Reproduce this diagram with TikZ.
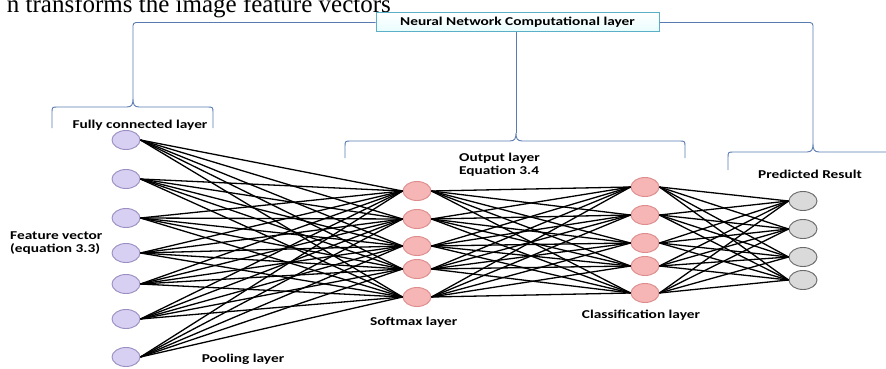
\documentclass[tikz,border=0pt]{standalone}
\usepackage{fontspec}
\setmainfont{Carlito}
\newfontfamily\bodyserif{Liberation Serif}
\newfontfamily\labelfont[FakeStretch=1.28]{Carlito}
\usetikzlibrary{shapes.geometric}

\definecolor{bracecol}{HTML}{5A7BB0}
\definecolor{boxedge}{HTML}{5BB0C8}
\definecolor{boxfill}{HTML}{DDF4F8}
\definecolor{purplefill}{HTML}{D8D0F2}
\definecolor{purpleedge}{HTML}{9A8EC2}
\definecolor{pinkfill}{HTML}{F6B6B6}
\definecolor{pinkedge}{HTML}{DE8C8C}
\definecolor{greyfill}{HTML}{DADADA}
\definecolor{greyedge}{HTML}{6A6A6A}

\tikzset{
  neuron/.style={ellipse, minimum width=28pt, minimum height=19pt, inner sep=0pt, line width=0.9pt},
  inneuron/.style={neuron, draw=purpleedge, fill=purplefill},
  midneuron/.style={neuron, draw=pinkedge, fill=pinkfill},
  outneuron/.style={neuron, draw=greyedge, fill=greyfill},
  synapse/.style={draw=black, line width=1.3pt},
  bracket/.style={draw=bracecol, line width=0.9pt, rounded corners=3pt},
  lbl/.style={font=\labelfont\bfseries\fontsize{12}{13}\selectfont, inner sep=0pt, text=black},
  titlebox/.style={draw=boxedge, line width=1pt, top color=white, bottom color=boxfill!80!cyan!30,
    minimum width=283pt, minimum height=19pt, inner sep=0pt, font=\labelfont\bfseries\fontsize{12}{13}\selectfont}
}

% layer brace: left x, right x, tip x, bar y, end y
\newcommand\layerbrace[5]{%
  \draw[bracecol, line width=0.9pt]
    (#1,#5) -- (#1,#4+6) .. controls (#1,#4) .. (#1+6,#4)
    -- (#3-6,#4) .. controls (#3-1,#4) and (#3,#4-3) .. (#3,#4-8)
    .. controls (#3,#4-3) and (#3+1,#4) .. (#3+6,#4)
    -- (#2-6,#4) .. controls (#2,#4) .. (#2,#4+6) -- (#2,#5);}

\begin{document}
\begin{tikzpicture}[x=1pt, y=-1pt]
\useasboundingbox (0,0) rectangle (886,369);
\clip (0,0) rectangle (886,369);
\fill[white] (0,0) rectangle (886,369);

% running text of the page above
\node[anchor=base east, inner sep=0pt, font=\bodyserif\fontsize{25}{28}\selectfont] (runhead) at (391,12.2) {n transforms the image feature vectors};

% title box and its bracket lines
\node[titlebox] (title) at (517.5,22.5) {Neural Network Computational layer};
\coordinate (tipA) at (133,99);
\coordinate (tipB) at (516,133);
\coordinate (tipC) at (813,144);
\draw[bracket] (tipA) |- (title.west);
\draw[bracket] (title.east) -| (tipC);
\draw[bracket] (title.south -| tipB) -- (tipB);

\layerbrace{52}{213}{133}{107}{128}
\layerbrace{345}{685}{516}{141}{158}
\layerbrace{728}{910}{813}{152}{170}

% neurons
\foreach \i/\y in {1/140,2/179,3/218,4/253,5/284,6/319,7/357}
  \node[inneuron] (f\i) at (126,\y) {};
\foreach \i/\y in {1/191,2/219,3/246,4/269,5/297}
  \node[midneuron] (s\i) at (417,\y) {};
\foreach \i/\y in {1/187,2/215,3/243,4/266,5/293}
  \node[midneuron] (c\i) at (645,\y) {};
\foreach \i/\y in {1/201,2/229,3/257,4/280}
  \node[outneuron] (o\i) at (803,\y) {};

% fully connected links
\foreach \i in {1,...,7}
  \foreach \j in {1,...,5}
    \draw[synapse] (f\i.east) -- (s\j.west);
\foreach \i in {1,...,5}
  \foreach \j in {1,...,5}
    \draw[synapse] (s\i.east) -- (c\j.west);
\foreach \i in {1,...,5}
  \foreach \j in {1,...,4}
    \draw[synapse] (c\i.east) -- (o\j.west);

% labels
\node[lbl] (lfc) at (140,125) {Fully connected layer};
\node[lbl, anchor=west, align=left] (lfv) at (10,243) {Feature vector\\(equation 3.3)};
\node[lbl] (lpool) at (243,359) {Pooling layer};
\node[lbl, anchor=west] (lsoft) at (370,322) {Softmax layer};
\node[lbl, anchor=west, align=left] (lout) at (459,164.5) {Output layer\\Equation 3.4};
\node[lbl] (lclass) at (641,315) {Classification layer};
\node[lbl] (lpred) at (810,174) {Predicted Result};
\end{tikzpicture}
\end{document}
